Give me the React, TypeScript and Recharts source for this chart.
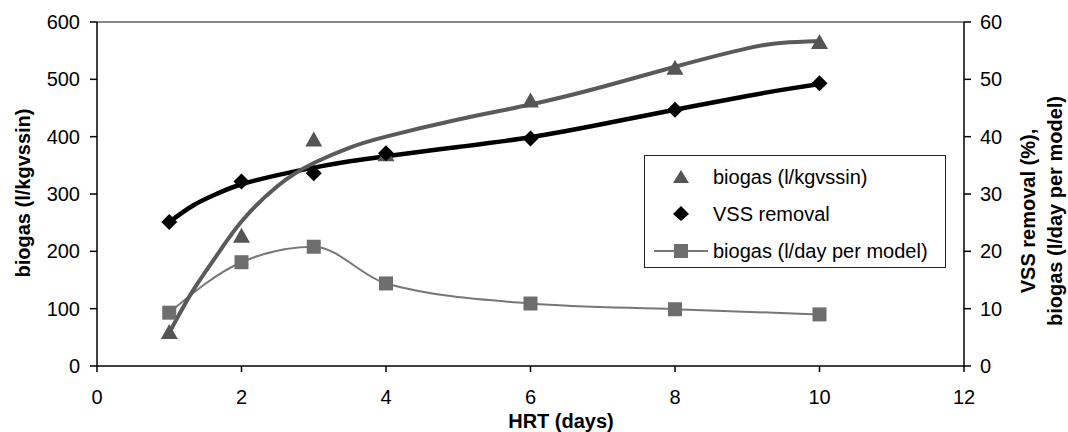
import { ComposedChart, Line, XAxis, YAxis, ReferenceLine, Label } from 'recharts'

const hrt = [1, 2, 3, 4, 6, 8, 10]
const biogasPerKg = [60, 228, 396, 370, 464, 521, 566]
const vssRemoval = [25.1, 32.2, 33.6, 37.1, 39.7, 44.7, 49.3]
const biogasPerDay = [9.3, 18.1, 20.8, 14.4, 10.9, 9.9, 9.0]

// trend curves
const trendHrt = [1, 1.33, 1.67, 2, 2.5, 3, 3.5, 4, 5, 6, 7, 8, 9, 9.5, 10]
const biogasTrend = [58, 132, 195, 252, 314, 354, 381, 400, 430, 456, 487, 522, 554, 564, 567]
const vssTrend = [25.1, 28.0, 30.1, 31.7, 33.3, 34.6, 35.7, 36.6, 38.2, 39.9, 42.2, 44.7, 47.1, 48.2, 49.2]

const xTicks = [0, 2, 4, 6, 8, 10, 12]
const leftTicks = [0, 100, 200, 300, 400, 500, 600]
const rightTicks = [0, 10, 20, 30, 40, 50, 60]

const legendItems = ['biogas (l/kgvssin)', 'VSS removal', 'biogas (l/day per model)']

const FONT = '"Liberation Sans", Arial, sans-serif'

const rows = trendHrt.map((x, i) => {
	const j = hrt.indexOf(x)
	return {
		x,
		biogasTrend: biogasTrend[i],
		vssTrend: vssTrend[i],
		biogasPerKg: j >= 0 ? biogasPerKg[j] : null,
		vssRemoval: j >= 0 ? vssRemoval[j] : null,
		biogasPerDay: j >= 0 ? biogasPerDay[j] : null,
	}
})

const empty = (p: any) => <g key={`e-${p.index}`} />

const triangleDot = (p: any) => {
	if (p.value == null || p.cy == null) return empty(p)
	const { cx, cy } = p
	return <path key={`t-${p.index}`} d={`M${cx},${cy - 7.5} L${cx + 8.5},${cy + 7.5} L${cx - 8.5},${cy + 7.5} Z`} fill="#555" />
}

const diamondDot = (p: any) => {
	if (p.value == null || p.cy == null) return empty(p)
	const { cx, cy } = p
	return <path key={`d-${p.index}`} d={`M${cx},${cy - 8} L${cx + 8},${cy} L${cx},${cy + 8} L${cx - 8},${cy} Z`} fill="#000" />
}

const squareDot = (p: any) => {
	if (p.value == null || p.cy == null) return empty(p)
	const { cx, cy } = p
	return <rect key={`s-${p.index}`} x={cx - 7} y={cy - 7} width={14} height={14} fill="#6e6e6e" />
}

const tickStyle = { fill: '#000', fontSize: 20, fontFamily: FONT }

function ChartLegend() {
	const rowY = [21, 58, 95]
	return (
		<div
			style={{
				position: 'absolute',
				left: 644,
				top: 155,
				width: 302,
				height: 113,
				boxSizing: 'border-box',
				border: '1px solid #222',
				background: '#fff',
			}}
		>
			<svg width={300} height={111} style={{ position: 'absolute', left: 0, top: 0 }}>
				<path d={`M36,${rowY[0] - 7} L44,${rowY[0] + 6} L28,${rowY[0] + 6} Z`} fill="#555" />
				<path d={`M36,${rowY[1] - 8} L44,${rowY[1]} L36,${rowY[1] + 7} L28,${rowY[1]} Z`} fill="#000" />
				<line x1={9} x2={63} y1={rowY[2]} y2={rowY[2]} stroke="#777" strokeWidth={2} />
				<rect x={29} y={rowY[2] - 7} width={14} height={14} fill="#6e6e6e" />
				{legendItems.map((t, i) => (
					<text key={t} x={68} y={rowY[i]} dominantBaseline="central" fontSize={20} fontFamily={FONT} fill="#000">
						{t}
					</text>
				))}
			</svg>
		</div>
	)
}

export default function App() {
	return (
		<div style={{ position: 'absolute', left: 0, top: 0, width: 1068, height: 432, background: '#fff' }}>
			<ComposedChart width={1068} height={432} data={rows} margin={{ top: 22, right: 0, bottom: 0, left: 0 }}>
				<XAxis
					dataKey="x"
					type="number"
					domain={[0, 12]}
					ticks={xTicks}
					height={66}
					tickSize={6}
					tickMargin={18}
					tick={tickStyle}
					axisLine={{ stroke: '#000', strokeWidth: 1.5 }}
					tickLine={{ stroke: '#000', strokeWidth: 1.5 }}
				>
					<Label
						value="HRT (days)"
						content={() => (
							<text x={561} y={428} textAnchor="middle" fontSize={20} fontWeight="bold" fontFamily={FONT} fill="#000">
								HRT (days)
							</text>
						)}
					/>
				</XAxis>
				<YAxis
					yAxisId="left"
					domain={[0, 600]}
					ticks={leftTicks}
					width={97}
					tickSize={7}
					tickMargin={10}
					tick={tickStyle}
					axisLine={{ stroke: '#000', strokeWidth: 1.5 }}
					tickLine={{ stroke: '#000', strokeWidth: 1.5 }}
				>
					<Label
						value="biogas (l/kgvssin)"
						content={() => (
							<text
								x={23}
								y={193}
								transform="rotate(-90 23 193)"
								textAnchor="middle"
								dominantBaseline="central"
								fontSize={20}
								fontWeight="bold"
								fontFamily={FONT}
								fill="#000"
							>
								biogas (l/kgvssin)
							</text>
						)}
					/>
				</YAxis>
				<YAxis
					yAxisId="right"
					orientation="right"
					domain={[0, 60]}
					ticks={rightTicks}
					width={104}
					tickSize={7}
					tickMargin={9}
					tick={tickStyle}
					axisLine={{ stroke: '#000', strokeWidth: 1.5 }}
					tickLine={{ stroke: '#000', strokeWidth: 1.5 }}
				>
					<Label
						value="VSS removal (%), biogas (l/day per model)"
						content={() => (
							<g fontSize={20} fontWeight="bold" fontFamily={FONT} fill="#000">
								<text x={1028} y={211} transform="rotate(-90 1028 211)" textAnchor="middle" dominantBaseline="central">
									VSS removal (%),
								</text>
								<text x={1055} y={211} transform="rotate(-90 1055 211)" textAnchor="middle" dominantBaseline="central">
									biogas (l/day per model)
								</text>
							</g>
						)}
					/>
				</YAxis>
				<ReferenceLine yAxisId="left" y={600} stroke="#888" strokeWidth={2} />
				<Line
					yAxisId="right"
					dataKey="biogasPerDay"
					type="monotone"
					connectNulls
					stroke="#777"
					strokeWidth={2}
					dot={squareDot}
					activeDot={false}
					isAnimationActive={false}
				/>
				<Line
					yAxisId="left"
					dataKey="biogasPerKg"
					connectNulls
					stroke="none"
					strokeWidth={0}
					dot={triangleDot}
					activeDot={false}
					isAnimationActive={false}
				/>
				<Line
					yAxisId="right"
					dataKey="vssRemoval"
					connectNulls
					stroke="none"
					strokeWidth={0}
					dot={diamondDot}
					activeDot={false}
					isAnimationActive={false}
				/>
				<Line
					yAxisId="right"
					dataKey="vssTrend"
					type="natural"
					stroke="#000"
					strokeWidth={4.5}
					dot={false}
					activeDot={false}
					isAnimationActive={false}
				/>
				<Line
					yAxisId="left"
					dataKey="biogasTrend"
					type="natural"
					stroke="#5a5a5a"
					strokeWidth={4}
					dot={false}
					activeDot={false}
					isAnimationActive={false}
				/>
			</ComposedChart>
			<ChartLegend />
		</div>
	)
}
